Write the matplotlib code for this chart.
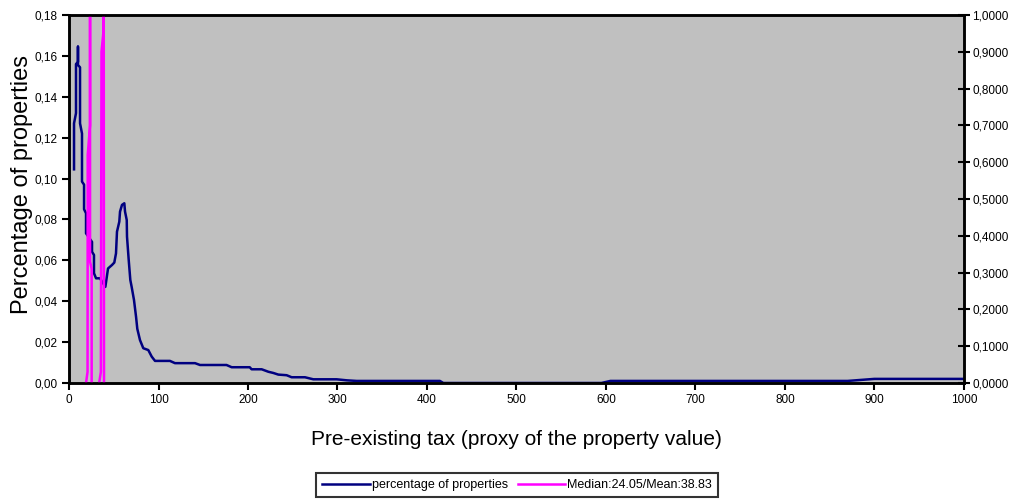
import matplotlib
matplotlib.use("Agg")
import matplotlib.pyplot as plt
from matplotlib.ticker import FuncFormatter, MultipleLocator

plt.rcParams['font.family'] = ['Liberation Sans', 'DejaVu Sans']

# distribution of properties by pre-existing tax
tax = [5.6, 5.6, 7.8, 7.8, 10, 10, 10, 12.3, 12.3, 14.5, 14.5, 16.8, 16.8,
       19, 19, 25.7, 25.7, 27.9, 27.9, 30.2, 34.6, 40.6, 43.6, 48, 50.6,
       52.5, 53.6, 56.2, 57, 59.2, 61.8, 62.6, 64.5, 64.8, 66.7, 68.5, 70,
       72.6, 74.9, 76.3, 79.3, 83, 88.6, 92.4, 96.1, 112.8, 118.4, 140.8,
       146.4, 176, 181.8, 202, 204, 215.3, 222.7, 228.3, 233.9, 243.2,
       248.8, 263.7, 273, 299.1, 310.3, 321.5, 414.5, 418.3, 595, 605,
       870, 900, 1000]
share = [0.1045, 0.127, 0.132, 0.156, 0.157, 0.1645, 0.1555, 0.1544, 0.127,
         0.122, 0.0985, 0.097, 0.085, 0.083, 0.0732, 0.069, 0.0642, 0.0626,
         0.0537, 0.0512, 0.0512, 0.047, 0.056, 0.0577, 0.0589, 0.0634, 0.074,
         0.0789, 0.0838, 0.0871, 0.0879, 0.0838, 0.0797, 0.0716, 0.0602,
         0.0504, 0.047, 0.0406, 0.0324, 0.0265, 0.021, 0.017, 0.0161, 0.0129,
         0.0108, 0.0108, 0.0097, 0.0097, 0.0088, 0.0088, 0.0077, 0.0077,
         0.0067, 0.0067, 0.0055, 0.0049, 0.0041, 0.0038, 0.0028, 0.0028,
         0.0018, 0.0018, 0.0013, 0.001, 0.001, 0.0, 0.0, 0.001, 0.001,
         0.002, 0.002]

# median / mean marker series (secondary axis)
median_x = [19.0, 20.7, 20.9, 23.5, 23.5, 23.5, 25.3, 25.3]
median_y = [0.0, 0.03, 0.62, 0.70, 1.0, 0.33, 0.31, 0.0]
mean_x = [33.7, 35.6, 36.3, 38.3, 38.3, 38.8, 39.1]
mean_y = [0.0, 0.03, 0.90, 0.95, 1.0, 1.0, 0.0]

fig = plt.figure(figsize=(10.18, 4.99), dpi=100)
ax = fig.add_axes([0.0678, 0.2325, 0.879, 0.7375])
ax.set_facecolor('#C0C0C0')
ax.plot(tax, share, color='#000080', lw=1.8, label='percentage of properties')
ax.set_xlim(0, 1000)
ax.set_ylim(0, 0.18)
ax.xaxis.set_major_locator(MultipleLocator(100))
ax.yaxis.set_major_locator(MultipleLocator(0.02))
ax.yaxis.set_major_formatter(FuncFormatter(lambda v, p: f"{v:.2f}".replace('.', ',')))
ax.tick_params(axis='both', labelsize=8.5, width=1.5, length=5, direction='out',
               color='black', pad=3)
ax.set_xlabel('Pre-existing tax (proxy of the property value)', fontsize=15, labelpad=17)
ax.set_ylabel('Percentage of properties', fontsize=17)
ax.yaxis.set_label_coords(-0.04, 0.54)

ax2 = ax.twinx()
ax2.plot(median_x, median_y, color='#FF00FF', lw=1.8, label='Median:24.05/Mean:38.83')
ax2.plot(mean_x, mean_y, color='#FF00FF', lw=1.8)
ax2.set_ylim(0, 1)
ax2.yaxis.set_major_locator(MultipleLocator(0.1))
ax2.yaxis.set_major_formatter(FuncFormatter(lambda v, p: f"{v:.4f}".replace('.', ',')))
ax2.tick_params(axis='y', labelsize=8.5, width=1.5, length=8, direction='inout',
                color='black', pad=2)

for a in (ax, ax2):
    for s in a.spines.values():
        s.set_linewidth(1.8)
        s.set_color('black')

h1, l1 = ax.get_legend_handles_labels()
h2, l2 = ax2.get_legend_handles_labels()
leg = fig.legend(h1 + h2, l1 + l2, loc='center', bbox_to_anchor=(0.508, 0.028),
                 ncol=2, fontsize=9, frameon=True, fancybox=False,
                 edgecolor='black', handlelength=3.8, columnspacing=0.8,
                 borderpad=0.5, handletextpad=0.15, borderaxespad=0)
leg.get_frame().set_linewidth(1.5)

fig.savefig('out.png', dpi=100)
